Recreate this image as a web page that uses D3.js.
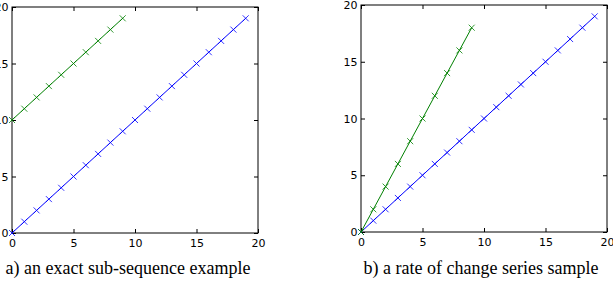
<!DOCTYPE html>
<html>
<head>
<meta charset="utf-8">
<script src="https://cdn.jsdelivr.net/npm/d3@7"></script>
<style>
  body { margin: 0; background: #fff; }
  svg { display: block; }
</style>
</head>
<body>
<script>
// Data
const blueX = d3.range(0, 20);            // 0..19
const blueY = [0,1,2,3,4,5,6,7,8,9,10,11,12,13,14,15,16,17,18,19];
const greenX = d3.range(0, 10);           // 0..9
const greenYA = [10,11,12,13,14,15,16,17,18,19];
const greenYB = [0,2,4,6,8,10,12,14,16,18];
const ticks = [0, 5, 10, 15, 20];
const captions = ["a) an exact sub-sequence example", "b) a rate of change series sample"];

const svg = d3.select("body").append("svg").attr("width", 613).attr("height", 281);

const panels = [
  { left: 12, right: 258, top: 7, bottom: 233, green: greenYA, caption: captions[0], cx: 128 },
  { left: 361, right: 607, top: 5, bottom: 232, green: greenYB, caption: captions[1], cx: 481 }
];

panels.forEach((p) => {
  const x = d3.scaleLinear().domain([0, 20]).range([p.left, p.right]);
  const y = d3.scaleLinear().domain([0, 20]).range([p.bottom, p.top]);
  const g = svg.append("g");

  // frame
  g.append("rect")
    .attr("x", p.left).attr("y", p.top)
    .attr("width", p.right - p.left).attr("height", p.bottom - p.top)
    .attr("fill", "none").attr("stroke", "#000").attr("stroke-width", 1);

  // axes with inward ticks
  const xb = g.append("g").attr("transform", `translate(0,${p.bottom})`)
    .call(d3.axisBottom(x).tickValues(ticks).tickSizeInner(-4).tickSizeOuter(0).tickPadding(6.5));
  const xt = g.append("g").attr("transform", `translate(0,${p.top})`)
    .call(d3.axisTop(x).tickValues(ticks).tickSizeInner(-4).tickSizeOuter(0).tickFormat(""));
  const yl = g.append("g").attr("transform", `translate(${p.left},0)`)
    .call(d3.axisLeft(y).tickValues(ticks).tickSizeInner(-4).tickSizeOuter(0).tickPadding(3.5));
  const yr = g.append("g").attr("transform", `translate(${p.right},0)`)
    .call(d3.axisRight(y).tickValues(ticks).tickSizeInner(-4).tickSizeOuter(0).tickFormat(""));
  [xb, xt, yl, yr].forEach((a) => {
    a.select(".domain").remove();
    a.attr("font-family", null).attr("font-size", null)
      .style("font-family", "DejaVu Sans").style("font-size", "11px");
  });

  const series = [
    { xs: blueX, ys: blueY, color: "#0000ff" },
    { xs: greenX, ys: p.green, color: "#008000" }
  ];

  series.forEach((s) => {
    const pts = s.xs.map((d, i) => [d, s.ys[i]]);
    g.append("path")
      .datum(pts)
      .attr("fill", "none")
      .attr("stroke", s.color)
      .attr("stroke-width", 1)
      .attr("d", d3.line().x((d) => x(d[0])).y((d) => y(d[1])));

    g.selectAll(null)
      .data(pts)
      .join("path")
      .attr("transform", (d) => `translate(${x(d[0])},${y(d[1])})`)
      .attr("d", "M-3,-3L3,3M-3,3L3,-3")
      .attr("stroke", s.color)
      .attr("stroke-width", 0.8)
      .attr("fill", "none");
  });

  svg.append("text")
    .attr("x", p.cx)
    .attr("y", 274)
    .attr("text-anchor", "middle")
    .style("font-family", "Liberation Serif")
    .style("font-size", "18px")
    .attr("fill", "#000")
    .text(p.caption);
});
</script>
</body>
</html>
